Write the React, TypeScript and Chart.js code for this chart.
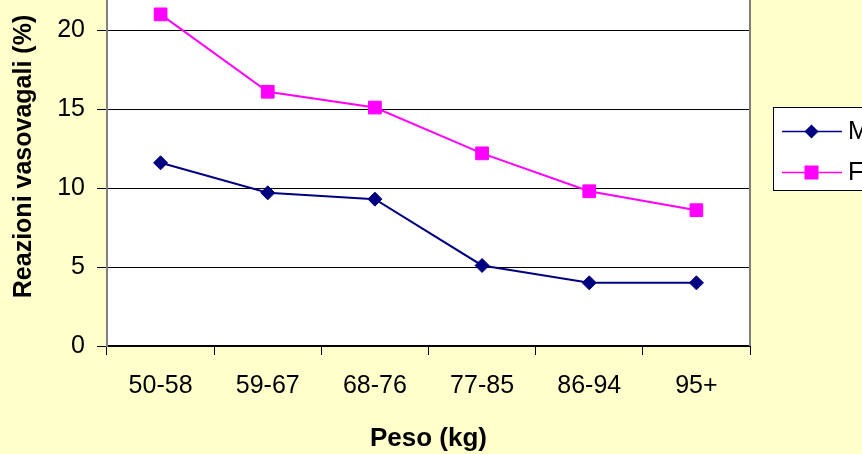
import { useEffect, useRef } from "react";
import { Chart, registerables } from "chart.js";

Chart.register(...registerables);

const categories = ["50-58", "59-67", "68-76", "77-85", "86-94", "95+"];
const maschi = [11.6, 9.7, 9.3, 5.1, 4.0, 4.0];
const femmine = [21.0, 16.1, 15.1, 12.2, 9.8, 8.6];
const seriesLabels = ["Maschi", "Femmine"];
const seriesColors = ["#000080", "#FF00FF"];
const yTicks = [0, 5, 10, 15, 20];
const yMax = 24;

const FONT = '"Liberation Sans", Arial, Helvetica, sans-serif';
const CANVAS_W = 1000;
const CANVAS_H = 514;
const CANVAS_TOP = -60;

const plotAreaPlugin = {
  id: "plotArea",
  beforeDraw(chart: any) {
    const { ctx, chartArea } = chart;
    ctx.save();
    ctx.fillStyle = "#FFFFFF";
    ctx.fillRect(chartArea.left, chartArea.top, chartArea.right - chartArea.left, chartArea.bottom - chartArea.top);
    ctx.restore();
  },
  beforeDatasetsDraw(chart: any) {
    const { ctx, chartArea } = chart;
    ctx.save();
    ctx.strokeStyle = "#808080";
    ctx.lineWidth = 2;
    ctx.beginPath();
    ctx.moveTo(chartArea.left, chartArea.top);
    ctx.lineTo(chartArea.right, chartArea.top);
    ctx.lineTo(chartArea.right, chartArea.bottom);
    ctx.stroke();
    ctx.restore();
  },
};

const boxLegendPlugin = {
  id: "boxLegend",
  afterDraw(chart: any) {
    const { ctx, chartArea } = chart;
    const left = Math.round(chartArea.right + 23);
    const top = Math.round(chartArea.top + 140);
    const w = 200;
    const h = 83;
    ctx.save();
    ctx.fillStyle = "#FFFFFF";
    ctx.fillRect(left, top, w, h);
    ctx.strokeStyle = "#000000";
    ctx.lineWidth = 1;
    ctx.strokeRect(left + 0.5, top + 0.5, w, h);
    chart.data.datasets.forEach((ds: any, i: number) => {
      const y = top + 24.5 + i * 41;
      const color = ds.borderColor;
      ctx.strokeStyle = color;
      ctx.lineWidth = 1.5;
      ctx.beginPath();
      ctx.moveTo(left + 9, y);
      ctx.lineTo(left + 69, y);
      ctx.stroke();
      const cx = left + 38.5;
      ctx.fillStyle = color;
      ctx.beginPath();
      if (ds.pointStyle === "rectRot") {
        const r = 7;
        ctx.moveTo(cx - r, y);
        ctx.lineTo(cx, y - r);
        ctx.lineTo(cx + r, y);
        ctx.lineTo(cx, y + r);
        ctx.closePath();
      } else {
        const r = 7;
        ctx.rect(cx - r, y - r, 2 * r, 2 * r);
      }
      ctx.fill();
      ctx.fillStyle = "#000000";
      ctx.font = `25px ${FONT}`;
      ctx.textBaseline = "middle";
      ctx.textAlign = "left";
      ctx.fillText(ds.label, left + 75, y + 1);
    });
    ctx.restore();
  },
};

export default function App() {
  const ref = useRef<HTMLCanvasElement>(null);

  useEffect(() => {
    if (!ref.current) return;
    const chart = new Chart(ref.current, {
      type: "line",
      data: {
        labels: categories,
        datasets: [
          {
            label: seriesLabels[0],
            data: maschi,
            borderColor: seriesColors[0],
            backgroundColor: seriesColors[0],
            pointBackgroundColor: seriesColors[0],
            pointBorderColor: seriesColors[0],
            pointStyle: "rectRot",
            pointRadius: 7,
            pointHoverRadius: 7,
            pointBorderWidth: 1,
            borderWidth: 2,
            tension: 0,
            fill: false,
          },
          {
            label: seriesLabels[1],
            data: femmine,
            borderColor: seriesColors[1],
            backgroundColor: seriesColors[1],
            pointBackgroundColor: seriesColors[1],
            pointBorderColor: seriesColors[1],
            pointStyle: "rect",
            pointRadius: 9,
            pointHoverRadius: 9,
            pointBorderWidth: 1,
            borderWidth: 2,
            tension: 0,
            fill: false,
          },
        ],
      },
      options: {
        responsive: false,
        animation: false,
        events: [],
        layout: { padding: { left: 0, top: 10, right: 250, bottom: 0 } },
        plugins: {
          legend: { display: false },
          tooltip: { enabled: false },
        },
        scales: {
          x: {
            type: "category",
            offset: true,
            grid: {
              display: true,
              drawOnChartArea: false,
              offset: true,
              tickLength: 9,
              color: "#000000",
              lineWidth: 1,
            },
            border: { display: true, color: "#000000", width: 2 },
            ticks: {
              color: "#000000",
              font: { size: 25, family: FONT },
              padding: 16,
              maxRotation: 0,
              autoSkip: false,
            },
            title: {
              display: true,
              text: "Peso (kg)",
              color: "#000000",
              font: { size: 26, weight: "bold", family: FONT },
              padding: { top: 0, bottom: 0 },
            },
            afterFit(scale: any) {
              scale.height = 108;
            },
          },
          y: {
            min: 0,
            max: yMax,
            ticks: {
              stepSize: 5,
              color: "#000000",
              font: { size: 25, family: FONT },
              padding: 12,
            },
            afterBuildTicks(scale: any) {
              scale.ticks = yTicks.map((v) => ({ value: v }));
            },
            grid: { color: "#000000", lineWidth: 1, tickLength: 10 },
            border: { display: true, color: "#808080", width: 2 },
            title: {
              display: true,
              text: "Reazioni vasovagali (%)",
              color: "#000000",
              font: { size: 25, weight: "bold", family: FONT },
              padding: { top: 9, bottom: 0 },
            },
            afterFit(scale: any) {
              scale.width = 107;
            },
          },
        },
      } as any,
      plugins: [plotAreaPlugin, boxLegendPlugin],
    });
    return () => chart.destroy();
  }, []);

  return (
    <div
      style={{
        position: "fixed",
        left: 0,
        top: 0,
        width: "100vw",
        height: "100vh",
        overflow: "hidden",
        background: "#FFFFCC",
      }}
    >
      <canvas
        ref={ref}
        width={CANVAS_W}
        height={CANVAS_H}
        style={{
          position: "absolute",
          left: 0,
          top: CANVAS_TOP,
          width: CANVAS_W,
          height: CANVAS_H,
          display: "block",
        }}
      />
    </div>
  );
}
